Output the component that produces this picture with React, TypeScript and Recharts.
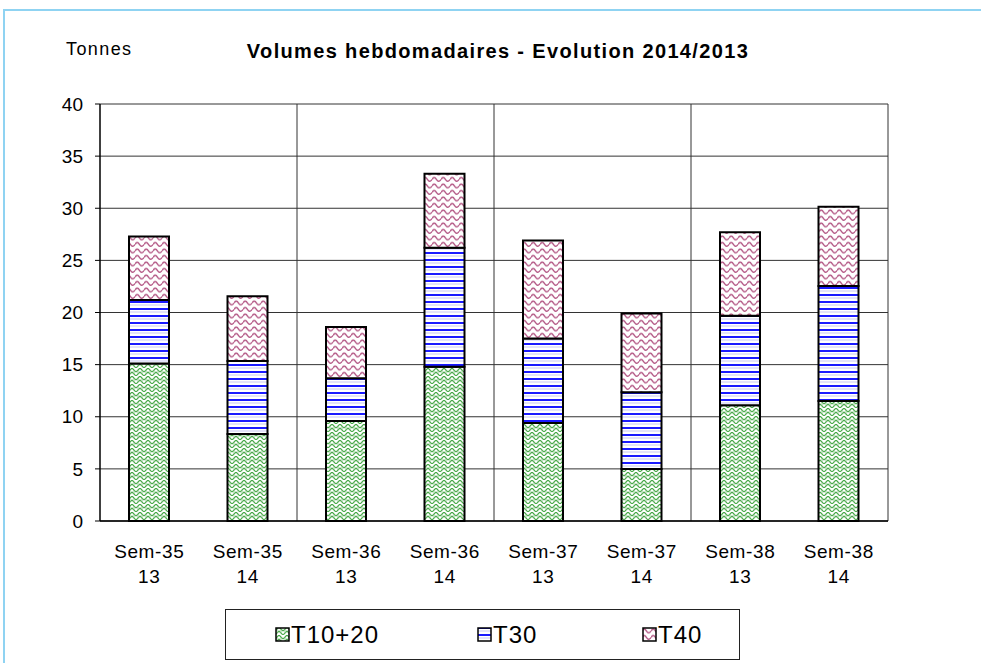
import React from "react";
import { BarChart, Bar, XAxis, YAxis, CartesianGrid } from "recharts";

// weekly volumes, tonnes
const weeks = ["Sem-35", "Sem-35", "Sem-36", "Sem-36", "Sem-37", "Sem-37", "Sem-38", "Sem-38"];
const years = ["13", "14", "13", "14", "13", "14", "13", "14"];
const t1020 = [15.1, 8.35, 9.6, 14.8, 9.4, 5.0, 11.1, 11.5];
const t30 = [6.1, 7.0, 4.1, 11.4, 8.1, 7.35, 8.6, 11.05];
const t40 = [6.1, 6.2, 4.9, 7.1, 9.4, 7.55, 8.0, 7.6];
const yTicks = [0, 5, 10, 15, 20, 25, 30, 35, 40];

const series = [
  { key: "t1020", name: "T10+20", fill: "url(#pGreen)" },
  { key: "t30", name: "T30", fill: "url(#pBlue)" },
  { key: "t40", name: "T40", fill: "url(#pPink)" },
];
const legendLeft = [49, 251, 416];

const data = weeks.map((w, i) => ({
  label: w + " " + years[i],
  t1020: t1020[i],
  t30: t30[i],
  t40: t40[i],
}));

const FONT = "'Liberation Sans', Arial, sans-serif";

const WeekTick = (props: any) => {
  const { x, y, payload } = props;
  const i = payload.index;
  const common = { x, y, textAnchor: "middle" as const, fontSize: 19, fontFamily: FONT, fill: "#000", letterSpacing: 0.6 };
  return (
    <g>
      <text {...common} dy={31}>{weeks[i]}</text>
      <text {...common} dy={56}>{years[i]}</text>
    </g>
  );
};

// lines every two weeks, plus the right border of the plot
const pairLines = ({ offset }: any) =>
  [1, 2, 3, 4].map((k) => offset.left + (offset.width * k) / 4);

export default function App() {
  return (
    <div style={{ position: "absolute", left: 0, top: 0, width: 981, height: 663, background: "#fff", fontFamily: FONT, overflow: "hidden" }}>
      <div style={{ position: "absolute", left: 3, top: 9, right: -10, bottom: -10, border: "2px solid #8fd3f2" }} />
      <div style={{ position: "absolute", left: 66, top: 39, fontSize: 18, letterSpacing: 1.4 }}>Tonnes</div>
      <div style={{ position: "absolute", left: 0, width: 996, top: 40, textAlign: "center", fontSize: 20, fontWeight: "bold", letterSpacing: 1.35 }}>
        Volumes hebdomadaires - Evolution 2014/2013
      </div>
      <BarChart
        width={981}
        height={663}
        data={data}
        margin={{ top: 104, right: 93, left: 40, bottom: 82 }}
        style={{ position: "absolute", left: 0, top: 0 }}
      >
        <defs>
          <pattern id="pGreen" width="8" height="8" patternUnits="userSpaceOnUse">
            <rect width="8" height="8" fill="#fff" />
            <path d="M0,8 L4,4 L8,8 M0,4 L4,0 L8,4" stroke="#48a848" strokeWidth="1.2" fill="none" />
            <path d="M2,2 L2,6 M6,2 L6,6" stroke="#7cc27c" strokeWidth="0.8" fill="none" />
          </pattern>
          <pattern id="pBlue" width="8" height="7" patternUnits="userSpaceOnUse">
            <rect width="8" height="7" fill="#fff" />
            <rect y="0" width="8" height="2" fill="#1a1aff" />
            <rect y="3.5" width="8" height="1" fill="#c8c8f4" />
          </pattern>
          <pattern id="pPink" width="9" height="6.5" patternUnits="userSpaceOnUse">
            <rect width="9" height="6.5" fill="#fff" />
            <path d="M0,4 Q2.25,0.3 4.5,4 T9,4" stroke="#b0507f" strokeWidth="1.3" fill="none" />
          </pattern>
        </defs>
        <CartesianGrid
          stroke="#333"
          strokeWidth={1}
          verticalCoordinatesGenerator={pairLines}
        />
        <XAxis
          dataKey="label"
          height={60}
          axisLine={{ stroke: "#000", strokeWidth: 1.5 }}
          tickLine={false}
          tickMargin={0}
          interval={0}
          tick={<WeekTick />}
        />
        <YAxis
          width={60}
          domain={[0, 40]}
          ticks={yTicks}
          interval={0}
          axisLine={{ stroke: "#000", strokeWidth: 1.5 }}
          tickLine={{ stroke: "#000" }}
          tickSize={5}
          tickMargin={12}
          tick={{ fontSize: 19, fill: "#000", fontFamily: FONT }}
        />
        {series.map((s) => (
          <Bar
            key={s.key}
            dataKey={s.key}
            name={s.name}
            stackId="v"
            fill={s.fill}
            stroke="#000"
            strokeWidth={2}
            barSize={40}
            isAnimationActive={false}
          />
        ))}
      </BarChart>
      <div
        style={{
          position: "absolute",
          left: 225,
          top: 609,
          width: 515,
          height: 51,
          border: "1px solid #222",
          boxSizing: "border-box",
          fontSize: 24,
        }}
      >
        {series.map((s, i) => (
          <div key={s.key} style={{ position: "absolute", left: legendLeft[i], top: 11, display: "flex", alignItems: "center" }}>
            <svg width={16} height={16}>
              <rect x={1} y={1} width={13} height={13} fill={s.fill} stroke="#000" strokeWidth={1.5} />
            </svg>
            <span style={{ letterSpacing: 1 }}>{s.name}</span>
          </div>
        ))}
      </div>
    </div>
  );
}
